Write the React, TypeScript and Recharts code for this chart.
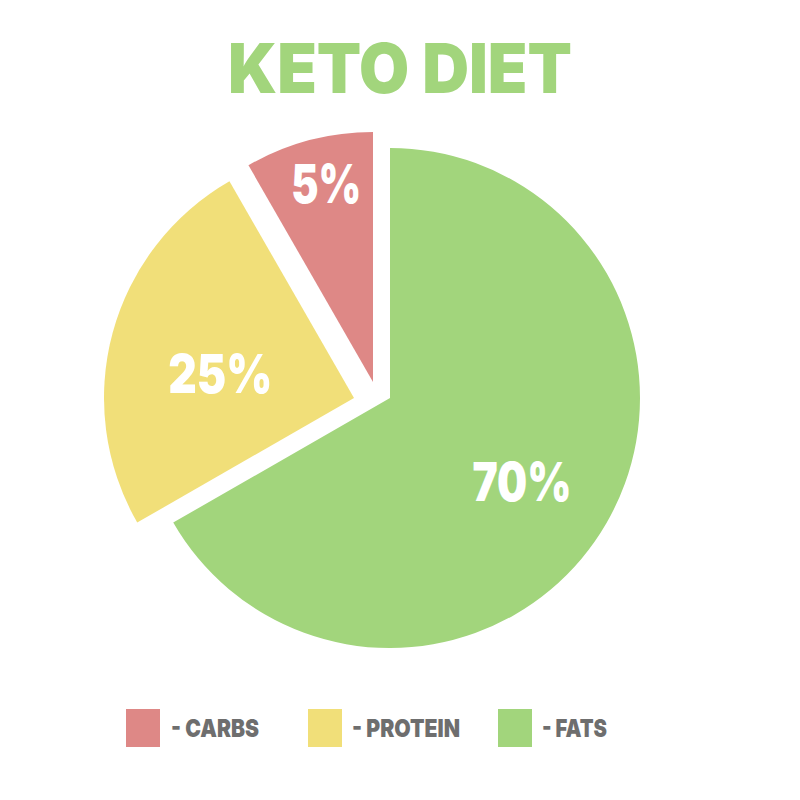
import React from "react";
import { PieChart, Pie, Cell } from "recharts";

// ---- data ----
const categories = ["FATS", "PROTEIN", "CARBS"];
const shares = [66.7, 25, 8.3]; // drawn proportions of the slices
const percentLabels = ["70%", "25%", "5%"];
const legendNames = ["- CARBS", "- PROTEIN", "- FATS"];
const legendOrder = [2, 1, 0];
const titleText = "KETO DIET";

// ---- styles / layout ----
const colors = ["#A2D57C", "#F1DF79", "#DE8886"];
const sliceCenters = [
  { cx: 390, cy: 398 },
  { cx: 354, cy: 398 },
  { cx: 373, cy: 382 },
];
const labelRadius = [0.624, 0.544, 0.816];
const labelAngleShift = [-2.2, 4.6, -1.7];
const labelWidths = [99, 104, 70];
const legendRectX = [126, 308, 498];
const legendTextX = [171, 352, 542];
const legendTextW = [88, 108, 65];
const RADIUS = 250;
const RAD = Math.PI / 180;
const FONT = "Inter, 'Liberation Sans', Arial, sans-serif";

const data = categories.map((name, i) => ({
  name,
  value: shares[i],
  label: percentLabels[i],
}));

function makeLabel(target: number) {
  return (props: any) => {
    const { cx, cy, midAngle, outerRadius, index } = props;
    if (index !== target) return null;
    const a = (midAngle + labelAngleShift[index]) * RAD;
    const r = outerRadius * labelRadius[index];
    const x = cx + r * Math.cos(a);
    const y = cy - r * Math.sin(a);
    return (
      <text
        key={`lbl-${index}`}
        x={x}
        y={y + 19.5}
        textAnchor="middle"
        fill="#FFFFFF"
        fontFamily={FONT}
        fontWeight={900}
        fontSize={53.5}
        textLength={labelWidths[index]}
        lengthAdjust="spacingAndGlyphs"
      >
        {data[index].label}
      </text>
    );
  };
}

export default function App() {
  return (
    <div
      style={{
        position: "absolute",
        left: 0,
        top: 0,
        width: 800,
        height: 800,
        background: "#FFFFFF",
      }}
    >
      <PieChart width={800} height={800} margin={{ top: 0, right: 0, bottom: 0, left: 0 }}>
        {sliceCenters.map((c, target) => (
          <Pie
            key={`pie-${target}`}
            data={data}
            dataKey="value"
            nameKey="name"
            cx={c.cx}
            cy={c.cy}
            innerRadius={0}
            outerRadius={RADIUS}
            startAngle={90}
            endAngle={-270}
            stroke="none"
            isAnimationActive={false}
            labelLine={false}
            label={makeLabel(target)}
          >
            {data.map((d, i) => (
              <Cell
                key={`cell-${target}-${i}`}
                fill={i === target ? colors[i] : "transparent"}
                stroke="none"
              />
            ))}
          </Pie>
        ))}
      </PieChart>
      <svg
        width={800}
        height={800}
        style={{ position: "absolute", left: 0, top: 0, pointerEvents: "none" }}
      >
        <text
          x={400}
          y={93}
          textAnchor="middle"
          fill={colors[0]}
          fontFamily={FONT}
          fontWeight={900}
          fontSize={69}
          textLength={344}
          lengthAdjust="spacingAndGlyphs"
        >
          {titleText}
        </text>
        {legendOrder.map((ci, k) => (
          <g key={`leg-${k}`}>
            <rect x={legendRectX[k]} y={709} width={34} height={38} fill={colors[ci]} />
            <text
              x={legendTextX[k]}
              y={737}
              fill="#6E6E6E"
              fontFamily={FONT}
              fontWeight={900}
              fontSize={24.8}
              textLength={legendTextW[k]}
              lengthAdjust="spacingAndGlyphs"
            >
              {legendNames[k]}
            </text>
          </g>
        ))}
      </svg>
    </div>
  );
}
